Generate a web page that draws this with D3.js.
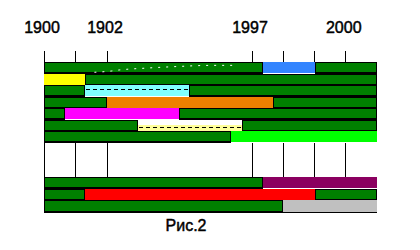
<!DOCTYPE html>
<html>
<head>
<meta charset="utf-8">
<script src="https://cdn.jsdelivr.net/npm/d3@7/dist/d3.min.js"></script>
<style>
  html, body { margin: 0; padding: 0; background: #fff; }
  svg { display: block; }
  text { font-family: "Liberation Sans", Arial, sans-serif; fill: #000; stroke: #000; stroke-width: 0.45px; }
</style>
</head>
<body>
<svg id="chart" width="420" height="250"></svg>
<script>
// ---- data ----
const tickYears = [1900, 1901, 1902, 1997, 1998, 1999, 2000];
const tickLabels = ["1900", "", "1902", "1997", "", "", "2000"];
const scaleBreaks = [1900, 1902, 1997, 2001];
const rowIndex = d3.range(13);           // rows 7..9 form the empty gap
const gapRows = [7, 8, 9];
const greenColor = "#008000";

// segments per row: [start, end, color] ; "g" = green bar with black frame
const row0 = [[1900, 1997.35, "g"], [1997.35, 1999, "#3385ff"], [1999, 2001, "g"]];
const row1 = [[1900, 1901.3, "#ffff00"], [1901.3, 2001, "g"]];
const row2 = [[1900, 1901.3, "g"], [1901.3, 1955.7, "#80ffff"], [1955.7, 2001, "g"]];
const row3 = [[1900, 1902, "g"], [1902, 1997.67, "#ee8000"], [1997.67, 2001, "g"]];
const row4 = [[1900, 1900.66, "g"], [1900.66, 1949.2, "#ff00ff"], [1949.2, 2001, "g"]];
const row5 = [[1900, 1922.6, "g"], [1922.6, 1990.6, "#ffff99"], [1990.6, 2001, "g"]];
const row6 = [[1900, 1983.5, "g"], [1983.5, 2001, "#00ff00"]];
const row10 = [[1900, 1997.35, "g"], [1997.35, 2001, "#8b0060"]];
const row11 = [[1900, 1901.3, "g"], [1901.3, 1999, "#ff0000"], [1999, 2001, "g"]];
const row12 = [[1900, 1998, "g"], [1998, 2001, "#c0c0c0"]];
const rows = [[0, row0], [1, row1], [2, row2], [3, row3], [4, row4], [5, row5], [6, row6],
              [10, row10], [11, row11], [12, row12]];
// offset from row top (in row fractions) where a coloured segment begins
const colorTopOffset = { 5: 0.45 };
// dashed lines inside coloured segments: [start, end, row, fraction of row]
const dashedLines = [[1901.3, 1955.7, 2, 0.35], [1922.6, 1991.5, 5, 0.63]];
// white dotted trace over the first bar: [year, row position]
const dottedTrace = [[1901.6, 0.89], [1905, 0.78], [1910, 0.69], [1916, 0.62], [1925, 0.55],
                     [1937, 0.46], [1950, 0.38], [1963, 0.31], [1975, 0.29], [1986, 0.29]];
const title = "Рис.2";

// ---- scales ----
const x = d3.scaleLinear().domain(scaleBreaks).range([44, 107, 252, 377]);
const y = d3.scaleBand().domain(rowIndex).range([62, 212]).padding(0);
const step = y.step();

const svg = d3.select("#chart");

// tick labels
svg.append("g").selectAll("text").data(tickYears).join("text")
  .attr("x", d => x(d) - 2).attr("y", 33)
  .attr("text-anchor", "middle").attr("font-size", 16)
  .text((d, i) => tickLabels[i]);

// tick lines (top and in the gap)
const tickG = svg.append("g").attr("stroke", "#000").attr("stroke-width", 1)
  .attr("shape-rendering", "crispEdges");
tickG.selectAll("line.top").data(tickYears).join("line").attr("class", "top")
  .attr("x1", d => Math.floor(x(d)) + 0.5).attr("x2", d => Math.floor(x(d)) + 0.5)
  .attr("y1", 51).attr("y2", y(0));
tickG.selectAll("line.gap").data(tickYears).join("line").attr("class", "gap")
  .attr("x1", d => Math.floor(x(d)) + 0.5).attr("x2", d => Math.floor(x(d)) + 0.5)
  .attr("y1", y(gapRows[0])).attr("y2", y(gapRows[gapRows.length - 1]) + step);

// bars
const barsG = svg.append("g").attr("shape-rendering", "crispEdges");
rows.forEach(([r, segs]) => {
  const y0 = y(r);
  segs.filter(s => s[2] === "g").forEach(([a, b]) => {
    barsG.append("rect").attr("x", x(a)).attr("y", y0)
      .attr("width", x(b) - x(a)).attr("height", step + 0.5).attr("fill", "#000");
    barsG.append("rect").attr("x", x(a) + 1).attr("y", y0 + 1)
      .attr("width", x(b) - x(a) - 2).attr("height", step - 2.5).attr("fill", greenColor);
  });
});
rows.forEach(([r, segs]) => {
  const y0 = y(r);
  const off = (colorTopOffset[r] || 0) * step;
  segs.filter(s => s[2] !== "g").forEach(([a, b, c]) => {
    barsG.append("rect").attr("x", x(a)).attr("y", y0 + off)
      .attr("width", x(b) - x(a)).attr("height", step - 0.5 - off).attr("fill", c);
  });
});

// bottom axis line
svg.append("line").attr("x1", x(1900)).attr("x2", x(2001))
  .attr("y1", 212.5).attr("y2", 212.5).attr("stroke", "#000")
  .attr("shape-rendering", "crispEdges");

// dashed lines
svg.append("g").selectAll("line").data(dashedLines).join("line")
  .attr("x1", d => x(d[0]) + 1).attr("x2", d => x(d[1]))
  .attr("y1", d => Math.round(y(d[2]) + d[3] * step) + 0.5)
  .attr("y2", d => Math.round(y(d[2]) + d[3] * step) + 0.5)
  .attr("stroke", "#000").attr("stroke-width", 1).attr("stroke-dasharray", "4,3")
  .attr("shape-rendering", "crispEdges");

// white dotted trace
svg.append("path").datum(dottedTrace)
  .attr("d", d3.line().x(d => x(d[0])).y(d => y(0) + d[1] * step).curve(d3.curveMonotoneX))
  .attr("fill", "none").attr("stroke", "#fff").attr("stroke-width", 1)
  .attr("stroke-dasharray", "2,6");

// title
svg.append("text").attr("x", 186).attr("y", 231).attr("text-anchor", "middle")
  .attr("font-size", 16).text(title);
</script>
</body>
</html>
